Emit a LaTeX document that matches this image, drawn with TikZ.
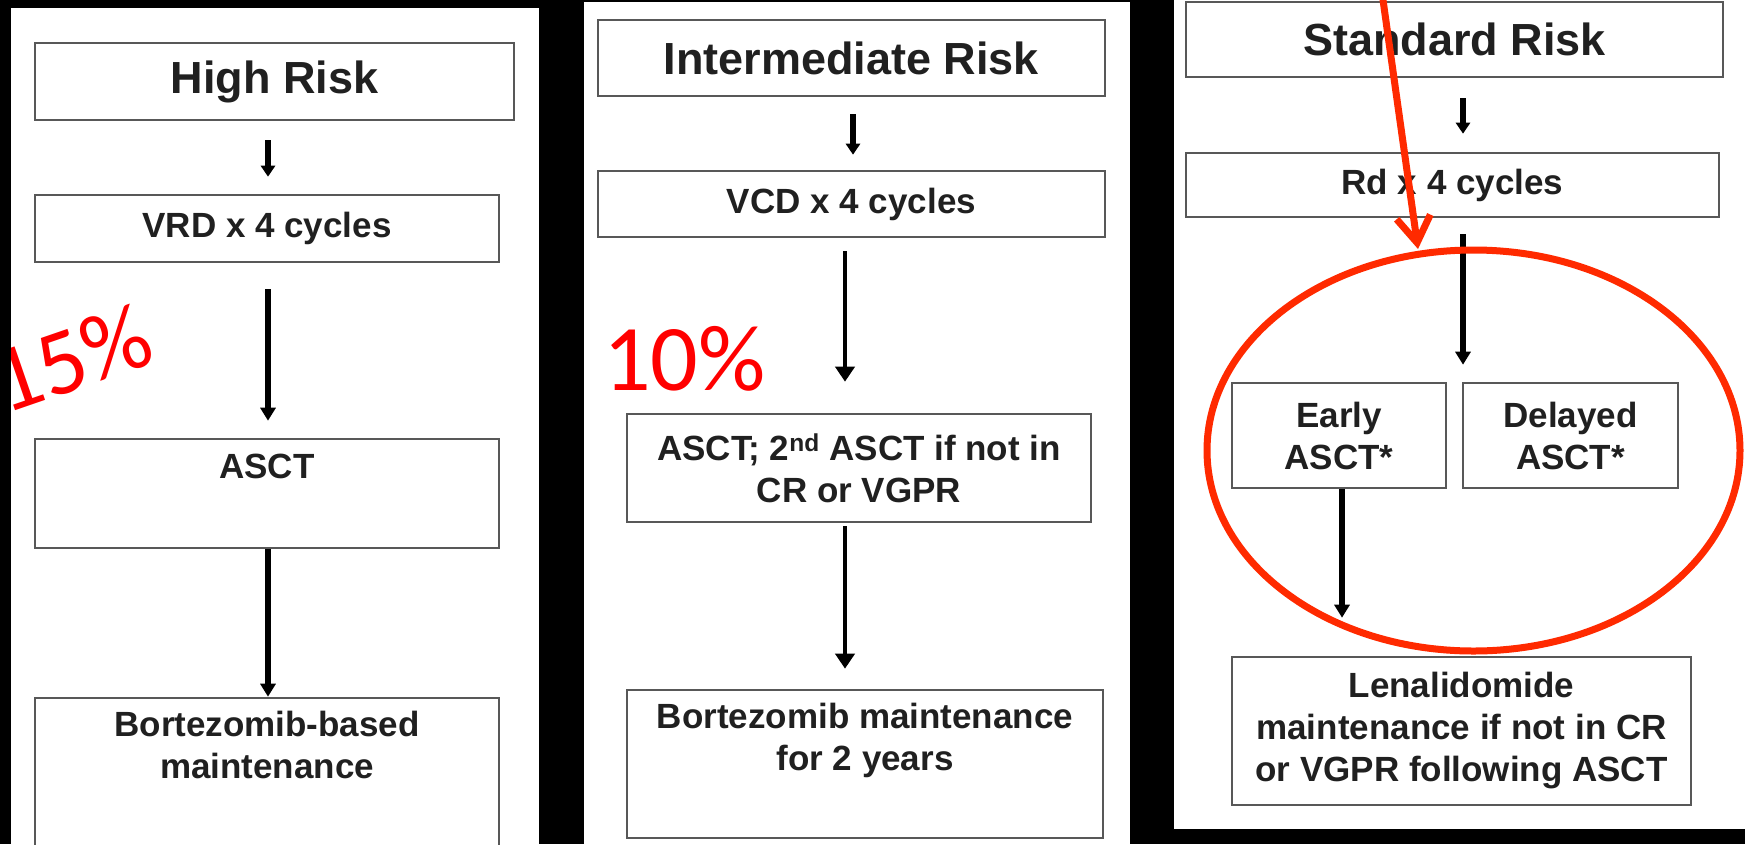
\documentclass[tikz,border=0pt]{standalone}
\usepackage{fontspec}
\setmainfont{Liberation Sans}
\newfontfamily\pctfont{Carlito}
\usetikzlibrary{arrows.meta,shapes.geometric}
\definecolor{boxline}{HTML}{585858}
\definecolor{boxtext}{HTML}{202020}
\definecolor{markred}{HTML}{FF2A00}
\definecolor{pctred}{HTML}{FF0000}
\begin{document}
\begin{tikzpicture}[x=1pt,y=-1pt,
  box/.style={draw=boxline, line width=2.6pt, inner sep=0pt, align=center,
    text=boxtext, font=\fontsize{35}{42}\selectfont\bfseries},
  headbox/.style={box, font=\fontsize{45}{50}\selectfont\bfseries},
  arr/.style={draw=black, line width=5.5pt, -{Triangle[length=13pt,width=15pt]}},
  midarr/.style={draw=black, line width=4.2pt, -{Triangle[length=15pt,width=19pt]}},
  sarr/.style={draw=black, line width=6pt, -{Triangle[length=11pt,width=14pt]}},
  pct/.style={text=pctred, inner sep=0pt, font=\pctfont\fontsize{94}{100}\selectfont},
  ring/.style={draw=markred, line width=7pt, ellipse, inner sep=0pt},
  redarrow/.style={draw=markred, line width=7pt, line cap=round,
    -{Straight Barb[length=26pt,width=34pt]}}
]
\useasboundingbox (0,0) rectangle (1745,844);
% background and panels
\fill[black] (0,0) rectangle (1745,844);
\fill[white] (11,8) rectangle (539,844);
\fill[white] (584,2) rectangle (1130,844);
\fill[white] (1174,0) rectangle (1745,829);

% ---- panel 1 ----
\node[headbox, minimum width=479pt, minimum height=77pt] (hr) at (274.5,81.5) {High Risk};
\node[box, minimum width=464pt, minimum height=67pt] (vrd) at (267,228.5) {VRD x 4 cycles};
\node[box, minimum width=464pt, minimum height=109pt] (asct1) at (267,493.5) {ASCT\\\strut};
\node[box, minimum width=464pt, minimum height=148pt] (bort1) at (267,772) {Bortezomib-based\\maintenance\\\strut};
\coordinate (xa) at (268,0);
\draw[sarr, shorten <=19pt, shorten >=17pt] (hr.south -| xa) -- (vrd.north -| xa);
\draw[arr, shorten <=26pt, shorten >=17pt] (vrd.south -| xa) -- (asct1.north -| xa);
\draw[arr] (asct1.south -| xa) -- (bort1.north -| xa);

% ---- panel 2 ----
\node[headbox, minimum width=507pt, minimum height=76pt] (int) at (851.5,58) {Intermediate Risk};
\node[box, minimum width=507pt, minimum height=66pt] (vcd) at (851.5,204) {VCD x 4 cycles};
\node[box, minimum width=464pt, minimum height=108pt] (asct2) at (859,468) {ASCT; 2\textsuperscript{nd} ASCT if not in\\CR or VGPR};
\node[box, minimum width=476pt, minimum height=148pt] (bort2) at (865,764) {Bortezomib maintenance\\for 2 years\\\strut};
\coordinate (xb) at (853,0);
\coordinate (xc) at (845,0);
\draw[sarr, shorten <=17pt, shorten >=15pt] (int.south -| xb) -- (vcd.north -| xb);
\draw[midarr, shorten <=13pt, shorten >=31pt] (vcd.south -| xc) -- (asct2.north -| xc);
\draw[midarr, shorten <=3pt, shorten >=20pt] (asct2.south -| xc) -- (bort2.north -| xc);

% ---- panel 3 ----
\node[headbox, minimum width=537pt, minimum height=75pt] (std) at (1454.5,39.5) {Standard Risk};
\node[box, minimum width=533pt, minimum height=64pt] (rd) at (1452.5,185) {Rd x 4 cycles};
\node[box, minimum width=214pt, minimum height=105pt] (early) at (1339,435.5) {Early\\ASCT*};
\node[box, minimum width=215pt, minimum height=105pt] (delayed) at (1570.5,435.5) {Delayed\\ASCT*};
\node[box, minimum width=459pt, minimum height=148pt] (len) at (1461.5,731) {Lenalidomide\\maintenance if not in CR\\or VGPR following ASCT};
\coordinate (xd) at (1463,0);
\coordinate (xe) at (1342,0);
\draw[sarr, shorten <=20pt, shorten >=18pt] (std.south -| xd) -- (rd.north -| xd);
\draw[arr, shorten <=16pt, shorten >=17pt] (rd.south -| xd) -- (early.north -| xd);
\draw[arr, shorten >=38pt] (early.south -| xe) -- (len.north -| xe);

% ---- red annotations ----
\node[ring, minimum width=533pt, minimum height=401pt] (circ) at (1473.5,450.5) {};
\coordinate (rs) at (1383,0);
\coordinate (rt) at (1418,249);
\draw[redarrow] (rs) -- (rt);
\node[pct, anchor=base west] (p10) at (603,390) {10\%};
\node[pct, rotate=19, anchor=base west] (p15) at (4,415) {15\%};
\fill[black] (0,0) rectangle (11,844);
\end{tikzpicture}
\end{document}
